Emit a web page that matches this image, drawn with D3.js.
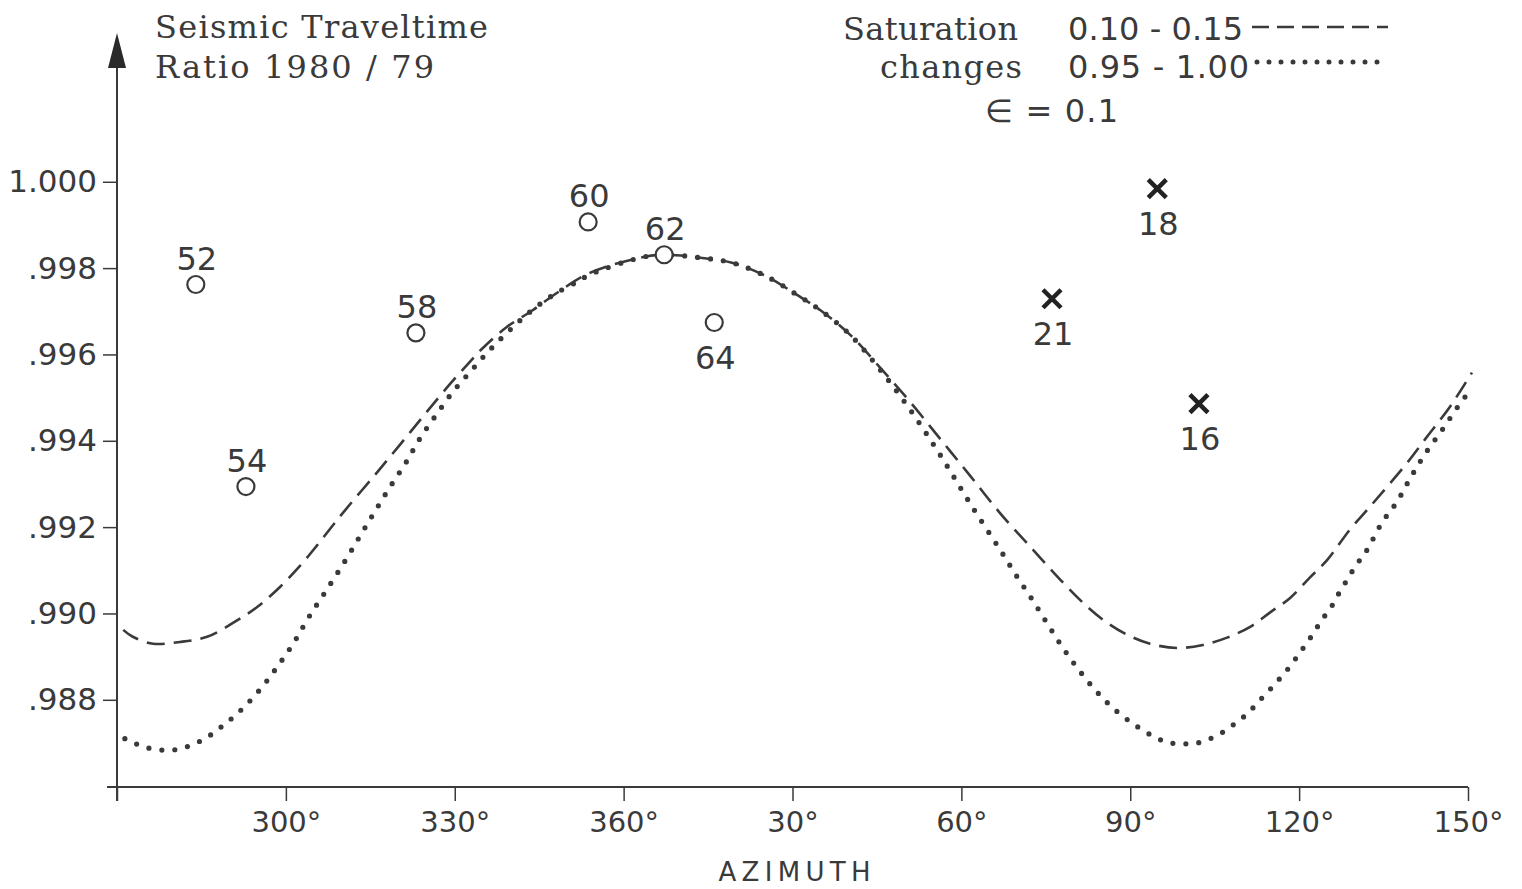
<!DOCTYPE html>
<html>
<head>
<meta charset="utf-8">
<script src="https://cdn.jsdelivr.net/npm/d3@7"></script>
<style>
  body { margin: 0; background: #fff; }
  svg text { fill: #3a3a3a; }
</style>
</head>
<body>
<div id="chart"></div>
<script>
// azimuth is unwrapped: 390 = 30°, 420 = 60° ...
var xTicks = [270, 300, 330, 360, 390, 420, 450, 480, 510]
var yTicks = [0.988, 0.990, 0.992, 0.994, 0.996, 0.998, 1.000]

// saturation 0.10 - 0.15 (dashed)
var dashedAz = [271.1, 272.8, 276.4, 281.2, 286.0, 290.6, 294.9, 299.0, 302.5, 305.5, 308.4, 311.4, 315.5, 318.5, 322.1, 325.1, 328.6, 332.2, 335.0, 339.3, 343.9, 348.2, 354.0, 362.9, 367.0, 373.6, 379.4, 385.5, 390.8, 394.9, 400.2, 405.6, 410.9, 416.2, 421.5, 426.9, 432.7, 438.1, 441.6, 445.2, 449.4, 453.5, 458.3, 462.9, 467.2, 471.3, 474.8, 478.4, 481.9, 485.0, 489.0, 492.1, 495.6, 499.2, 502.7, 506.8, 510.7]
var dashedVal = [0.98962, 0.98946, 0.98930, 0.98934, 0.98946, 0.98978, 0.99015, 0.99062, 0.99110, 0.99157, 0.99205, 0.99253, 0.99316, 0.99363, 0.99420, 0.99468, 0.99523, 0.99576, 0.99615, 0.99664, 0.99703, 0.99743, 0.99789, 0.99824, 0.99831, 0.99824, 0.99812, 0.99780, 0.99738, 0.99703, 0.99646, 0.99569, 0.99490, 0.99405, 0.99320, 0.99232, 0.99148, 0.99071, 0.99025, 0.98985, 0.98951, 0.98930, 0.98920, 0.98927, 0.98944, 0.98969, 0.99002, 0.99036, 0.99083, 0.99124, 0.99194, 0.99240, 0.99293, 0.99349, 0.99409, 0.99479, 0.99558]

// saturation 0.95 - 1.00 (dotted)
var dottedAz = [271.4, 275.3, 280.1, 284.9, 288.8, 292.4, 295.8, 298.6, 301.3, 304.0, 307.0, 310.2, 313.2, 315.8, 318.5, 321.3, 323.8, 326.7, 329.7, 332.9, 335.9, 339.5, 343.4, 347.5, 351.7, 354.0, 362.9, 367.0, 373.6, 379.4, 385.5, 390.8, 394.9, 400.2, 405.6, 410.9, 416.2, 421.5, 427.2, 429.9, 432.6, 435.2, 437.9, 440.7, 443.9, 447.1, 451.0, 454.9, 457.2, 459.6, 461.9, 464.2, 466.3, 468.3, 470.2, 472.0, 473.6, 475.4, 477.0, 478.6, 480.0, 481.4, 482.8, 484.2, 485.7, 486.9, 488.2, 489.4, 490.8, 492.1, 494.7, 497.4, 499.9, 502.5, 505.4, 508.2, 509.8]
var dottedVal = [0.98710, 0.98689, 0.98684, 0.98705, 0.98740, 0.98781, 0.98830, 0.98879, 0.98930, 0.98990, 0.99050, 0.99115, 0.99180, 0.99236, 0.99293, 0.99349, 0.99405, 0.99460, 0.99514, 0.99562, 0.99606, 0.99653, 0.99699, 0.99738, 0.99768, 0.99785, 0.99824, 0.99831, 0.99824, 0.99812, 0.99780, 0.99738, 0.99703, 0.99646, 0.99564, 0.99472, 0.99368, 0.99256, 0.99141, 0.99085, 0.99032, 0.98978, 0.98923, 0.98872, 0.98821, 0.98779, 0.98740, 0.98710, 0.98700, 0.98698, 0.98700, 0.98710, 0.98724, 0.98742, 0.98761, 0.98784, 0.98807, 0.98832, 0.98856, 0.98881, 0.98907, 0.98932, 0.98960, 0.98988, 0.99015, 0.99043, 0.99071, 0.99097, 0.99124, 0.99148, 0.99210, 0.99259, 0.99317, 0.99372, 0.99425, 0.99479, 0.99507]

// observed stations
var circleIds = ["52", "54", "58", "60", "62", "64"]
var circleAz = [284.0, 292.9, 323.1, 353.7, 367.2, 376.1]
var circleVal = [0.99762, 0.99294, 0.99650, 0.99907, 0.99831, 0.99674]

var crossIds = ["21", "18", "16"]
var crossAz = [436.1, 454.8, 462.2]
var crossVal = [0.99729, 0.99984, 0.99486]

var labelsBelow = ["64", "21", "18", "16"]

var width = 1522, height = 889
var ink = '#3a3a3a'
var sans = '"DejaVu Sans", sans-serif'
var serif = '"DejaVu Serif", serif'

var svg = d3.select('#chart').append('svg')
    .attr('width', width)
    .attr('height', height)

var x = d3.scaleLinear().domain([270, 510]).range([117, 1468])
var y = d3.scaleLinear().domain([0.98598, 1.0034]).range([787, 35])

// x axis
var xAxis = d3.axisBottom(x)
    .tickValues(xTicks)
    .tickSize(14)
    .tickSizeOuter(0)
    .tickPadding(10)
    .tickFormat(function(d) {
        if (d == 270) return ''
        return (d > 360 ? d - 360 : d) + '°'
    })

var gx = svg.append('g')
    .attr('transform', 'translate(0,' + y(0.98598) + ')')
    .call(xAxis)
gx.select('.domain').remove()
gx.selectAll('line').attr('stroke', ink).attr('stroke-width', 1.5)
gx.selectAll('text')
    .style('font-family', sans)
    .style('font-size', '29px')
    .attr('fill', ink)

svg.append('line')
    .attr('x1', x(270) - 10).attr('x2', x(510))
    .attr('y1', y(0.98598)).attr('y2', y(0.98598))
    .attr('stroke', ink).attr('stroke-width', 2)

svg.append('text')
    .attr('x', x(390) + 2)
    .attr('y', 881)
    .attr('text-anchor', 'middle')
    .style('font-family', sans)
    .style('font-size', '26px')
    .attr('textLength', 152)
    .text('AZIMUTH')

// y axis
var yAxis = d3.axisLeft(y)
    .tickValues(yTicks)
    .tickSize(14)
    .tickPadding(6)
    .tickFormat(function(d) {
        return d == 1 ? '1.000' : d3.format('.3f')(d).slice(1)
    })

var gy = svg.append('g')
    .attr('transform', 'translate(' + x(270) + ',0)')
    .call(yAxis)
gy.select('.domain').remove()
gy.selectAll('line').attr('stroke', ink).attr('stroke-width', 1.5)
gy.selectAll('text')
    .style('font-family', sans)
    .style('font-size', '31px')
    .attr('fill', ink)

svg.append('line')
    .attr('x1', x(270)).attr('x2', x(270))
    .attr('y1', y(0.98598) + 14).attr('y2', 60)
    .attr('stroke', ink).attr('stroke-width', 2)

svg.append('path')
    .attr('d', 'M' + x(270) + ',33 L' + (x(270) - 9) + ',68 L' + (x(270) + 9) + ',68 Z')
    .attr('fill', '#2a2a2a')

// curves
var line = d3.line()
    .x(function(d) { return x(d[0]) })
    .y(function(d) { return y(d[1]) })
    .curve(d3.curveCatmullRom)

svg.append('path')
    .datum(d3.zip(dashedAz, dashedVal))
    .attr('d', line)
    .attr('fill', 'none')
    .attr('stroke', ink)
    .attr('stroke-width', 2.6)
    .attr('stroke-dasharray', '18 9')

svg.append('path')
    .datum(d3.zip(dottedAz, dottedVal))
    .attr('d', line)
    .attr('fill', 'none')
    .attr('stroke', ink)
    .attr('stroke-width', 5.2)
    .attr('stroke-linecap', 'round')
    .attr('stroke-dasharray', '0 13')

// station markers
var circles = d3.zip(circleIds, circleAz, circleVal)
svg.selectAll('circle.stn')
    .data(circles)
    .enter()
    .append('circle')
    .attr('class', 'stn')
    .attr('cx', function(d) { return x(d[1]) })
    .attr('cy', function(d) { return y(d[2]) })
    .attr('r', 8.5)
    .attr('fill', '#fff')
    .attr('stroke', ink)
    .attr('stroke-width', 2.2)

var crosses = d3.zip(crossIds, crossAz, crossVal)
svg.selectAll('path.cross')
    .data(crosses)
    .enter()
    .append('path')
    .attr('class', 'cross')
    .attr('d', function(d) {
        var cx = x(d[1]), cy = y(d[2]), s = 9
        return 'M' + (cx - s) + ',' + (cy - s) + 'L' + (cx + s) + ',' + (cy + s) +
            'M' + (cx - s) + ',' + (cy + s) + 'L' + (cx + s) + ',' + (cy - s)
    })
    .attr('stroke', '#222')
    .attr('stroke-width', 4.5)

svg.selectAll('text.stn')
    .data(circles.concat(crosses))
    .enter()
    .append('text')
    .attr('class', 'stn')
    .attr('x', function(d) { return x(d[1]) + 1 })
    .attr('y', function(d) {
        return labelsBelow.indexOf(d[0]) >= 0 ? y(d[2]) + 46 : y(d[2]) - 15
    })
    .attr('text-anchor', 'middle')
    .style('font-family', sans)
    .style('font-size', '32px')
    .text(function(d) { return d[0] })

// title
svg.append('text')
    .attr('x', 155).attr('y', 38)
    .style('font-family', serif)
    .style('font-size', '32px')
    .attr('textLength', 333)
    .text('Seismic Traveltime')

svg.append('text')
    .attr('x', 155).attr('y', 78)
    .style('font-family', serif)
    .style('font-size', '32px')
    .attr('textLength', 279)
    .text('Ratio 1980 / 79')

// legend
var leg = svg.append('g').style('font-family', serif).style('font-size', '32px')
leg.append('text').attr('x', 1018).attr('y', 40).attr('text-anchor', 'end')
    .attr('textLength', 175).text('Saturation')
leg.append('text').attr('x', 1022).attr('y', 78).attr('text-anchor', 'end')
    .attr('textLength', 142).text('changes')
leg.append('text').attr('x', 1068).attr('y', 40).style('font-family', sans).style('font-size', '32px')
    .attr('textLength', 175).text('0.10 - 0.15')
leg.append('text').attr('x', 1068).attr('y', 78).style('font-family', sans).style('font-size', '32px')
    .attr('textLength', 181).text('0.95 - 1.00')
leg.append('text').attr('x', 985).attr('y', 122).style('font-family', sans).style('font-size', '32px')
    .attr('textLength', 133).text('∈ = 0.1')

leg.append('line')
    .attr('x1', 1252).attr('x2', 1388).attr('y1', 27).attr('y2', 27)
    .attr('stroke', ink).attr('stroke-width', 2.4)
    .attr('stroke-dasharray', '17 8')
leg.append('line')
    .attr('x1', 1257).attr('x2', 1388).attr('y1', 62).attr('y2', 62)
    .attr('stroke', ink).attr('stroke-width', 5)
    .attr('stroke-linecap', 'round')
    .attr('stroke-dasharray', '0 12')
</script>
</body>
</html>
